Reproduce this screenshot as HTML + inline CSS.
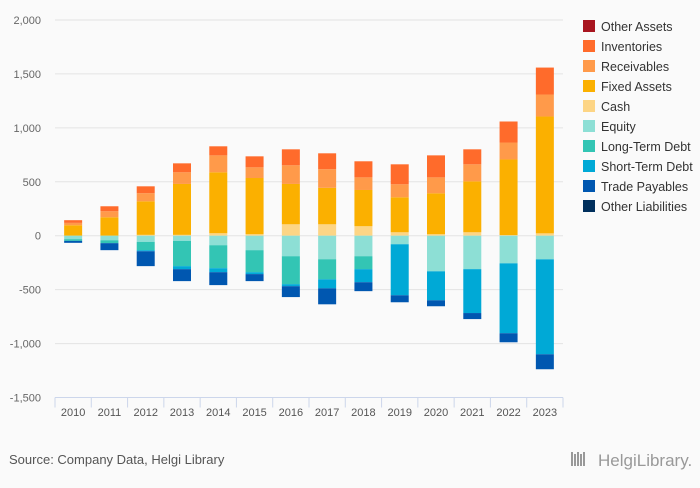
<!DOCTYPE html>
<html><head><meta charset="utf-8">
<style>
html,body{margin:0;padding:0;background:#fafafa;}
body{width:700px;height:483px;overflow:hidden;font-family:"Liberation Sans","DejaVu Sans",sans-serif;}
svg text{font-family:"Liberation Sans","DejaVu Sans",sans-serif;}
</style></head>
<body>
<svg id="chart" width="700" height="483" xmlns="http://www.w3.org/2000/svg"></svg>
<script>
const years = ["2010","2011","2012","2013","2014","2015","2016","2017","2018","2019","2020","2021","2022","2023"];
const otherAssets = [0,0,0,0,0,0,0,0,0,0,0,0,0,0];
const inventories = [25,46,64,83,84,102,148,147,149,185,204,139,195,250];
const receivables = [22,56,75,108,157,99,173,173,117,121,148,158,157,204];
const fixedAssets = [97,171,311,472,565,521,374,338,336,324,379,472,701,1083];
const cash = [0,0,8,8,23,14,106,106,88,32,14,32,6,22];
const equity = [-32,-42,-57,-48,-88,-134,-190,-218,-190,-79,-330,-310,-256,-219];
const longTermDebt = [-16,-27,-77,-234,-213,-204,-259,-186,-120,0,0,0,0,0];
const shortTermDebt = [0,0,-10,-28,-37,-18,-19,-84,-121,-473,-269,-407,-648,-880];
const tradePayables = [-18,-65,-138,-111,-120,-65,-101,-148,-83,-65,-55,-56,-84,-139];
const otherLiabilities = [0,0,0,0,0,0,0,0,0,0,0,0,0,0];
const yTicks = [2000,1500,1000,500,0,-500,-1000,-1500];
const yTickLabels = ["2,000","1,500","1,000","500","0","-500","-1,000","-1,500"];

const svg = document.getElementById('chart');
const NS = "http://www.w3.org/2000/svg";
const plotL = 55, plotR = 563, plotT = 20, plotB = 397.5;
const yMin = -1500, yMax = 2000;
function yScale(v){ return plotB - (v - yMin) / (yMax - yMin) * (plotB - plotT); }
const step = (plotR - plotL) / years.length;
function xCenter(i){ return plotL + step * (i + 0.5); }
const barW = 18;
function mk(tag, attrs){ const e = document.createElementNS(NS, tag); for (const k in attrs) e.setAttribute(k, attrs[k]); svg.appendChild(e); return e; }

// gridlines & y labels
yTicks.forEach((t, i) => {
  if (t !== yMin) {
    const g = mk('line', {x1: plotL, x2: plotR, y1: yScale(t), y2: yScale(t), stroke: '#e3e3e3', 'stroke-width': 1});
    
    
  }
  const tx = mk('text', {x: 41, y: yScale(t) + 4, 'text-anchor': 'end', 'font-size': 11, fill: '#666'});
  tx.textContent = yTickLabels[i];
  
  
});

// x axis
const ax = mk('line', {x1: plotL, x2: plotR, y1: plotB, y2: plotB, stroke: '#ccd6eb', 'stroke-width': 1});


for (let i = 0; i <= years.length; i++) {
  const x = plotL + step * i;
  const tk = mk('line', {x1: x, x2: x, y1: plotB, y2: plotB + 10, stroke: '#ccd6eb', 'stroke-width': 1});
  
  
}
years.forEach((y, i) => {
  const tx = mk('text', {x: xCenter(i), y: 416, 'text-anchor': 'middle', 'font-size': 11, fill: '#555'});
  tx.textContent = y;
  
  
});

// series (stack order from zero outward)
const posSeries = [
  {name: 'cash', data: cash, color: '#fdd585'},
  {name: 'fixed-assets', data: fixedAssets, color: '#fbb000'},
  {name: 'receivables', data: receivables, color: '#ff9a4a'},
  {name: 'inventories', data: inventories, color: '#ff6b2b'},
  {name: 'other-assets', data: otherAssets, color: '#a8151f'}
];
const negSeries = [
  {name: 'equity', data: equity, color: '#8ddfd5'},
  {name: 'long-term-debt', data: longTermDebt, color: '#33c5b4'},
  {name: 'short-term-debt', data: shortTermDebt, color: '#00a9d6'},
  {name: 'trade-payables', data: tradePayables, color: '#0057b0'},
  {name: 'other-liabilities', data: otherLiabilities, color: '#002f5c'}
];
years.forEach((yr, i) => {
  let base = 0;
  posSeries.forEach(s => {
    const v = s.data[i]; if (v <= 0) return;
    const y1 = yScale(base + v), y0 = yScale(base);
    const r = mk('rect', {x: xCenter(i) - barW / 2, y: y1, width: barW, height: y0 - y1, fill: s.color});
    
    
    base += v;
  });
  base = 0;
  negSeries.forEach(s => {
    const v = s.data[i]; if (v >= 0) return;
    const y0 = yScale(base), y1 = yScale(base + v);
    const r = mk('rect', {x: xCenter(i) - barW / 2, y: y0, width: barW, height: y1 - y0, fill: s.color});
    
    
    base += v;
  });
});

// legend
const legendItems = [
  ['Other Assets', '#a8151f'], ['Inventories', '#ff6b2b'], ['Receivables', '#ff9a4a'],
  ['Fixed Assets', '#fbb000'], ['Cash', '#fdd585'], ['Equity', '#8ddfd5'],
  ['Long-Term Debt', '#33c5b4'], ['Short-Term Debt', '#00a9d6'], ['Trade Payables', '#0057b0'],
  ['Other Liabilities', '#002f5c']
];
legendItems.forEach((it, i) => {
  const y = 20 + i * 20;
  const sq = mk('rect', {x: 583, y: y, width: 12, height: 12, fill: it[1]});
  
  
  const tx = mk('text', {x: 601, y: y + 11, 'font-size': 12.5, fill: '#333'});
  tx.textContent = it[0];
  
  
});

// footer
const src = mk('text', {x: 9, y: 464, 'font-size': 13, fill: '#555'});
src.textContent = 'Source: Company Data, Helgi Library';


const logoG = mk('g', {fill: '#999'});


[0,3,6,9,12].forEach((dx, k) => {
  const b = document.createElementNS(NS, 'rect');
  b.setAttribute('x', 571 + dx); b.setAttribute('y', 452 + (k % 2) * 2); b.setAttribute('width', 2); b.setAttribute('height', 14 - (k % 2) * 2);
  logoG.appendChild(b);
});
const logo = mk('text', {x: 598, y: 466, 'font-size': 17, fill: '#999', 'font-family': 'Liberation Serif, serif'});
logo.textContent = 'HelgiLibrary.';


</script>
</body></html>
